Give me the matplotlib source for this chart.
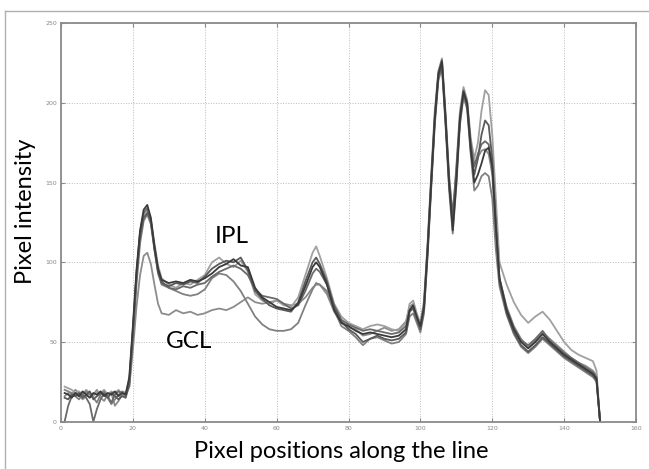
import matplotlib
matplotlib.use('Agg')
import matplotlib.pyplot as plt
from matplotlib.lines import Line2D

# Posisi piksel sepanjang garis (sumbu x)
posisi = ([1, 2, 3, 4, 5, 6, 7, 8, 9, 10, 11, 12, 13, 14, 15, 16, 17, 18]
          + [19, 20, 21, 22, 23, 24, 25, 26, 27, 28]
          + [30, 32, 34, 36, 38, 40, 42, 44, 46, 48, 50, 52, 54, 56, 58, 60, 62, 64, 66, 68, 70]
          + [71]
          + [72, 74, 76, 78, 80, 82, 84, 86, 88, 90, 92, 94, 96]
          + [97, 98, 99, 100, 101, 102, 103, 104, 105, 106, 107, 108, 109, 110, 111, 112,
             113, 114, 115, 116, 117, 118, 119, 120, 121, 122]
          + [124, 126, 128, 130, 132, 134, 136, 138, 140, 142, 144, 146, 148, 149, 150])

# Intensitas tiap profil
profil_a = ([18, 17, 15, 18, 16, 19, 17, 15, 18, 17, 19, 16, 18, 17, 19, 16, 18, 17]
            + [28, 60, 95, 120, 133, 136, 128, 110, 96, 89]
            + [87, 88, 87, 89, 88, 90, 93, 97, 99, 102, 98, 97, 84, 78, 75, 72, 71, 70, 74, 85, 97]
            + [100]
            + [97, 86, 70, 62, 60, 57, 55, 56, 55, 54, 53, 54, 58]
            + [70, 73, 66, 60, 72, 108, 150, 190, 218, 226, 190, 150, 120, 150, 190, 207,
               200, 172, 150, 155, 162, 170, 172, 160, 122, 90]
            + [70, 58, 50, 46, 50, 55, 50, 46, 42, 39, 36, 33, 30, 27, 0])
profil_b = ([22, 21, 20, 18, 19, 17, 20, 18, 16, 19, 18, 20, 17, 19, 18, 20, 17, 18]
            + [26, 58, 92, 118, 130, 133, 127, 112, 98, 90]
            + [86, 84, 87, 86, 89, 92, 100, 103, 99, 97, 101, 94, 80, 76, 74, 76, 73, 72, 78, 92, 106]
            + [110]
            + [104, 90, 74, 66, 62, 60, 58, 60, 61, 60, 58, 57, 62]
            + [74, 76, 68, 62, 76, 112, 155, 195, 220, 228, 194, 155, 128, 160, 195, 210,
               202, 178, 165, 175, 195, 208, 205, 180, 140, 100]
            + [86, 75, 67, 62, 66, 69, 64, 57, 50, 45, 42, 40, 38, 32, 0])
profil_c = ([15, 14, 17, 16, 18, 15, 17, 19, 14, 16, 18, 17, 15, 18, 16, 14, 16, 15]
            + [24, 55, 90, 116, 128, 131, 126, 108, 94, 87]
            + [85, 87, 86, 88, 87, 91, 96, 99, 101, 100, 103, 95, 82, 77, 73, 71, 70, 69, 75, 88, 100]
            + [103]
            + [99, 88, 72, 63, 58, 55, 50, 52, 54, 52, 51, 52, 56]
            + [69, 71, 65, 58, 70, 105, 148, 188, 216, 224, 188, 148, 125, 155, 188, 206,
               198, 170, 155, 165, 180, 189, 186, 165, 125, 88]
            + [68, 56, 48, 44, 48, 53, 49, 45, 41, 38, 35, 32, 29, 26, 0])
profil_d = ([0, 10, 16, 18, 16, 17, 15, 11, 0, 8, 14, 18, 16, 12, 17, 19, 18, 17]
            + [25, 57, 93, 119, 131, 134, 125, 110, 95, 88]
            + [84, 83, 85, 84, 86, 87, 91, 94, 96, 98, 96, 92, 83, 79, 78, 77, 74, 71, 73, 82, 93]
            + [96]
            + [94, 86, 73, 64, 61, 59, 57, 58, 57, 56, 55, 56, 60]
            + [70, 72, 64, 59, 73, 110, 152, 192, 219, 227, 192, 152, 130, 158, 192, 208,
               200, 175, 160, 168, 174, 176, 174, 160, 122, 90]
            + [71, 59, 51, 48, 52, 57, 51, 47, 43, 40, 37, 34, 31, 28, 0])
profil_e = ([20, 19, 18, 16, 14, 17, 19, 17, 15, 12, 17, 19, 15, 11, 14, 17, 19, 18]
            + [22, 52, 86, 112, 126, 130, 124, 108, 93, 86]
            + [84, 82, 80, 79, 80, 83, 90, 93, 92, 88, 82, 74, 66, 61, 58, 57, 57, 58, 62, 73, 83]
            + [87]
            + [86, 82, 70, 60, 57, 53, 48, 52, 53, 51, 49, 50, 55]
            + [66, 68, 62, 56, 68, 104, 146, 186, 214, 222, 186, 145, 118, 148, 186, 204,
               196, 168, 145, 148, 154, 156, 154, 140, 108, 85]
            + [67, 55, 47, 43, 47, 52, 48, 44, 40, 37, 34, 31, 28, 25, 0])
profil_f = ([16, 18, 17, 20, 18, 14, 16, 18, 17, 20, 15, 13, 17, 18, 10, 13, 17, 16]
            + [22, 45, 72, 92, 104, 106, 99, 86, 74, 68]
            + [67, 70, 68, 69, 67, 68, 70, 71, 70, 72, 75, 78, 75, 74, 75, 76, 74, 73, 74, 78, 84]
            + [86]
            + [86, 80, 69, 62, 59, 58, 54, 55, 57, 59, 57, 58, 63]
            + [72, 74, 66, 61, 74, 109, 150, 190, 217, 225, 190, 150, 128, 155, 190, 206,
               199, 174, 162, 166, 170, 171, 168, 155, 120, 90]
            + [72, 60, 52, 47, 51, 56, 52, 48, 44, 40, 37, 35, 32, 29, 0])

semua_profil = [profil_f, profil_b, profil_e, profil_d, profil_c, profil_a]
warna_garis = ['#8c8c8c', '#a0a0a0', '#808080', '#6a6a6a', '#5a5a5a', '#3a3a3a']

x_ticks = [0, 20, 40, 60, 80, 100, 120, 140, 160]
y_ticks = [0, 50, 100, 150, 200, 250]

fig = plt.figure(figsize=(6.49, 4.69), dpi=100)
ax = fig.add_axes([0.094, 0.1009, 0.886, 0.8495])

for data, warna in zip(semua_profil, warna_garis):
    ax.plot(posisi, data, color=warna, linewidth=1.3)

ax.set_xlim(0, 160)
ax.set_ylim(0, 250)
ax.set_xticks(x_ticks)
ax.set_yticks(y_ticks)
ax.tick_params(direction='in', length=3, width=0.8, color='#888888',
               labelsize=4.5, labelcolor='#888888', top=True, right=True, pad=3)
ax.grid(True, linestyle=':', color='#bbbbbb', linewidth=0.7)
for s in ax.spines.values():
    s.set_color('#8a8a8a')
    s.set_linewidth(1.3)

# Label lapisan
ax.text(47.5, 116, 'IPL', fontsize=17.5, family='Lato', ha='center', va='center')
ax.text(35.6, 50, 'GCL', fontsize=17.5, family='Lato', ha='center', va='center')

# Label sumbu
fig.text(0.040, 0.55, 'Pixel intensity', rotation=90, fontsize=17,
         family='Lato', ha='center', va='center')
fig.text(0.526, 0.038, 'Pixel positions along the line', fontsize=17,
         family='Lato', ha='center', va='center')

# Bingkai luar
fig.add_artist(Line2D([0.007, 1.0], [1 - 11 / 469, 1 - 11 / 469], color='#b0b0b0',
                      linewidth=1.0, transform=fig.transFigure))
fig.add_artist(Line2D([0.007, 0.007], [0.0, 1 - 11 / 469], color='#b0b0b0',
                      linewidth=1.0, transform=fig.transFigure))

fig.savefig('out.png', dpi=100, facecolor='white')
